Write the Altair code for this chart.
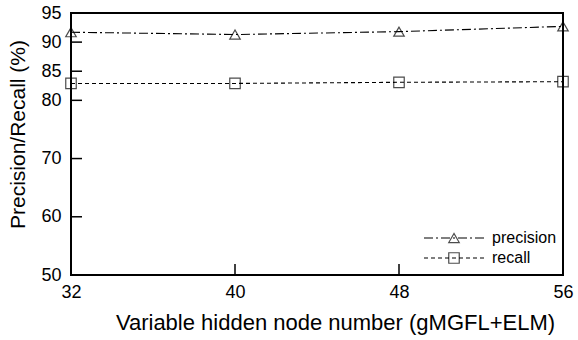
import altair as alt
import pandas as pd

nodes = [32, 40, 48, 56]
precision = [91.7, 91.3, 91.8, 92.7]
recall = [82.9, 82.9, 83.1, 83.2]
series_names = ["precision", "recall"]
y_ticks = [50, 60, 70, 80, 85, 90, 95]
y_inner_ticks = [60, 70, 80, 85, 90]
x_ticks = [32, 40, 48, 56]
x_inner_ticks = [40, 48]

rows = []
for n, p in zip(nodes, precision):
    rows.append({"n": n, "v": p, "series": "precision"})
for n, r in zip(nodes, recall):
    rows.append({"n": n, "v": r, "series": "recall"})
df = pd.DataFrame(rows)
df["series2"] = df["series"]

FONT = "Liberation Sans"
W, H = 492, 262

xscale = alt.Scale(domain=[32, 56], nice=False, zero=False)
yscale = alt.Scale(domain=[50, 95], nice=False, zero=False)

xenc = alt.X("n:Q", scale=xscale,
             axis=alt.Axis(values=x_ticks, title="Variable hidden node number (gMGFL+ELM)",
                           ticks=False, domain=False, grid=False, labelFlush=False,
                           labelPadding=8, titlePadding=11, titleX=264, titleFontSize=22))
yenc = alt.Y("v:Q", scale=yscale,
             axis=alt.Axis(values=y_ticks, title="Precision/Recall (%)",
                           ticks=False, domain=False, grid=False, labelFlush=False,
                           labelPadding=10, titlePadding=12, titleY=121, titleFontSize=21))

LX, LY = 375, 217

lines = alt.Chart(df).mark_line(color="black", strokeWidth=1.1).encode(
    x=xenc, y=yenc,
    strokeDash=alt.StrokeDash(
        "series:N",
        scale=alt.Scale(domain=series_names, range=[[9, 3, 2, 3], [4, 3]]),
        legend=alt.Legend(title=None, orient="none", legendX=LX, legendY=LY,
                          symbolType="M-6,0H6", symbolSize=100, symbolStrokeWidth=1.1,
                          symbolStrokeColor="black", labelOffset=30,
                          labelFont=FONT, labelFontSize=16, labelColor="black",
                          rowPadding=4),
    ),
)

points = alt.Chart(df).mark_point(filled=False, color="black", strokeWidth=1.2).encode(
    x=alt.X("n:Q", scale=xscale), y=alt.Y("v:Q", scale=yscale),
    shape=alt.Shape(
        "series2:N",
        scale=alt.Scale(domain=series_names, range=["triangle-up", "square"]),
        legend=alt.Legend(title=None, orient="none", legendX=LX, legendY=LY,
                          symbolSize=110, symbolStrokeWidth=1.2, symbolStrokeColor="black",
                          symbolFillColor="white", labelExpr="''",
                          labelFontSize=16, rowPadding=4),
    ),
    size=alt.value(110),
)

ytick_df = pd.DataFrame({"t": y_inner_ticks})
xtick_df = pd.DataFrame({"t": x_inner_ticks})
yticks = alt.Chart(ytick_df).mark_rule(color="black", strokeWidth=1.5).encode(
    y=alt.Y("t:Q", scale=yscale), x=alt.value(0), x2=alt.value(11))
xticks = alt.Chart(xtick_df).mark_rule(color="black", strokeWidth=1.5).encode(
    x=alt.X("t:Q", scale=xscale), y=alt.value(H), y2=alt.value(H - 11))

chart = alt.layer(lines, points, yticks, xticks).resolve_legend(
    strokeDash="independent", shape="independent"
).properties(
    width=W, height=H,
    autosize=alt.AutoSizeParams(type="none"),
    padding={"left": 71, "top": 13, "right": 15, "bottom": 65},
    background="white",
).configure_view(stroke="black", strokeWidth=2).configure_axis(
    labelFont=FONT, labelFontSize=18, labelColor="black",
    titleFont=FONT, titleFontWeight="normal", titleColor="black",
)

chart.save("out.html", embed_options={"renderer": "svg", "actions": False})
